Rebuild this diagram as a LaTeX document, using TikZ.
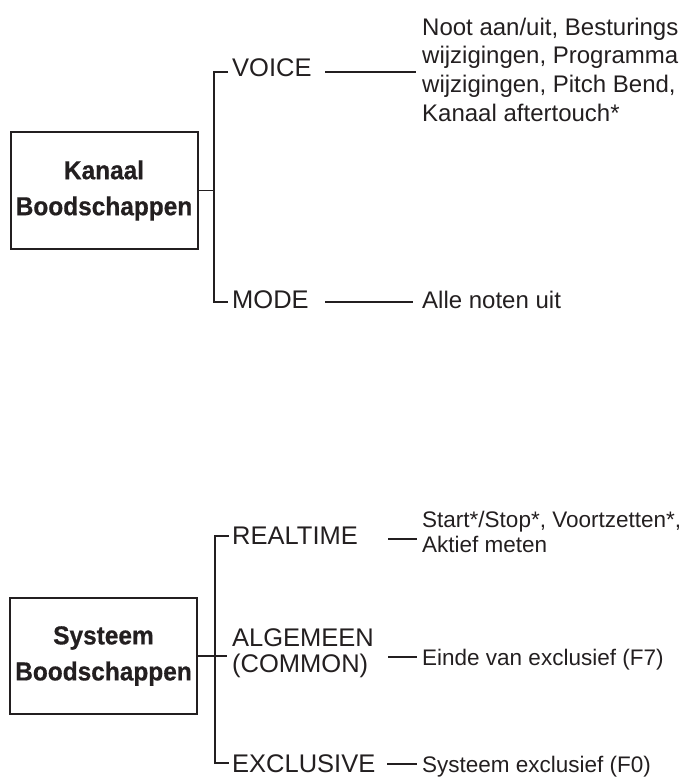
\documentclass[tikz,border=0pt]{standalone}
\usepackage{fontspec}
\setmainfont{Liberation Sans}
\newfontfamily\boxfont[FakeStretch=0.94, BoldFeatures={FakeStretch=0.94, FakeBold=0.6}]{Liberation Sans}
\definecolor{ink}{HTML}{231F20}
\tikzset{
  conn/.style={line width=1.1pt, draw=ink},
  boxnode/.style={draw=ink, line width=2pt, minimum width=187pt, minimum height=116pt,
    inner sep=0pt, align=center, text=ink,
    font=\boxfont\bfseries\fontsize{26}{36}\selectfont},
  lbl/.style={anchor=base west, inner sep=0pt, text=ink, font=\fontsize{25.5}{26}\selectfont},
  desc/.style={anchor=north west, inner sep=0pt, align=left, text=ink,
    font=\fontsize{24}{28.7}\selectfont},
  descs/.style={desc, font=\fontsize{22.5}{25}\selectfont},
}
\begin{document}
\begin{tikzpicture}[x=1pt, y=-1pt]
\useasboundingbox (0,0) rectangle (688,778);

% ---------- Kanaal Boodschappen ----------
\node[boxnode] (kanaal) at (104,190.5) {Kanaal\\Boodschappen};
\node[lbl] (voice) at (232,77) {VOICE};
\node[lbl] (mode) at (232,308) {MODE};
\node[desc] (voicedesc) at (422,17.7) {Noot aan/uit, Besturings\\wijzigingen, Programma\\wijzigingen, Pitch Bend,\\Kanaal aftertouch*};
\node[desc, anchor=base west] (modedesc) at (422,308) {Alle noten uit};

\coordinate (kj) at (214,190.5);
\coordinate (kv) at (228,72);
\coordinate (km) at (228,302);
\draw[conn] (kanaal.east) -- (kj);
\draw[conn] (kv) -- (kv -| kj) -- (km -| kj) -- (km);
\coordinate (v1) at (325,72);
\coordinate (v2) at (416,72);
\draw[conn] (v1) -- (v2);
\coordinate (m1) at (325,302);
\coordinate (m2) at (413,302);
\draw[conn] (m1) -- (m2);

% ---------- Systeem Boodschappen ----------
\node[boxnode] (systeem) at (103.5,656) {Systeem\\Boodschappen};
\node[lbl] (realtime) at (232,544.5) {REALTIME};
\node[lbl, anchor=north west, align=left] (algemeen) at (232,628.7) {ALGEMEEN\\(COMMON)};
\node[lbl] (exclusive) at (232,772) {EXCLUSIVE};
\node[descs] (realdesc) at (422,511) {Start*/Stop*, Voortzetten*,\\Aktief meten};
\node[descs, anchor=base west] (einde) at (422,665) {Einde van exclusief (F7)};
\node[descs, anchor=base west] (sysex) at (422,772) {Systeem exclusief (F0)};

\coordinate (sj) at (215,656);
\coordinate (sa) at (227,656);
\coordinate (sr) at (229,536);
\coordinate (se) at (229,763);
\draw[conn] (systeem.east) -- (sa);
\draw[conn] (sr) -- (sr -| sj) -- (se -| sj) -- (se);
\coordinate (r1) at (388,539);
\coordinate (r2) at (417,539);
\draw[conn] (r1) -- (r2);
\coordinate (a1) at (388,657);
\coordinate (a2) at (417,657);
\draw[conn] (a1) -- (a2);
\coordinate (e1) at (387,764);
\coordinate (e2) at (417,764);
\draw[conn] (e1) -- (e2);
\end{tikzpicture}
\end{document}
